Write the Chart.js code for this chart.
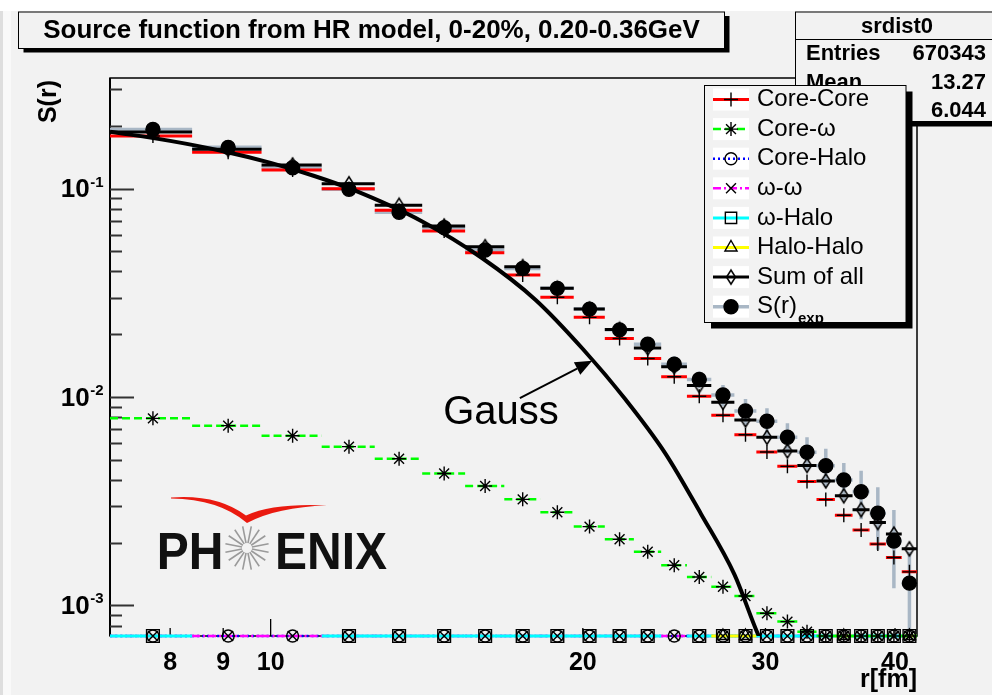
<!DOCTYPE html>
<html>
<head>
<meta charset="utf-8">
<title>Source function from HR model</title>
<script src="https://cdn.jsdelivr.net/npm/chart.js"></script>
<style>
  html, body { margin: 0; padding: 0; background: #ffffff; }
  canvas { display: block; }
</style>
</head>
<body>
<canvas id="srdist" width="992" height="695"></canvas>
<script>
// bin centres in fm (bins 1.4 fm wide, 7 - 42 fm)
const R_CENTERS = [7.7, 9.1, 10.5, 11.9, 13.3, 14.7, 16.1, 17.5, 18.9, 20.3, 21.7, 23.1, 24.5,
                   25.9, 27.3, 28.7, 30.1, 31.5, 32.9, 34.3, 35.7, 37.1, 38.5, 39.9, 41.3];
const BIN_WIDTH = 1.4;

const CORE_CORE  = [0.1786, 0.1492, 0.1227, 0.0998, 0.0786, 0.0625, 0.0492, 0.0385, 0.0301, 0.0241,
                    0.0191, 0.0153, 0.01251, 0.01008, 0.00817, 0.00659, 0.00545, 0.00465, 0.00393,
                    0.00322, 0.00271, 0.0023, 0.00197, 0.0017, 0.00145];
const CORE_OMEGA = [0.0079, 0.00729, 0.00652, 0.00578, 0.00506, 0.0043, 0.00374, 0.00323, 0.0028,
                    0.00239, 0.00208, 0.00181, 0.00156, 0.00137, 0.00123, 0.00111, 0.000918, 0.000837,
                    0.000749, 0.0007, 0.00064, 0.00058, 0.00053, 0.0005, 0.00042];
// these sit below the axis minimum; 0 = empty bin
const CORE_HALO  = [0.0001, 0.0001, 0.0001, 0.0001, 0.0001, 0.0001, 0.0001, 0.0001, 0.0001, 0.0001,
                    0.0001, 0.0001, 0.0001, 0.0001, 0.0001, 0.0001, 0.0001, 0.0001, 0.0001, 0.0001,
                    0.0001, 0.0001, 0.0001, 0.0001, 0.0001];
const OMEGA_OMEGA = [0.0001, 0.0001, 0.0001, 0.0001, 0.0001, 0.0001, 0.0001, 0.0001, 0.0001, 0.0001,
                     0.0001, 0.0001, 0.0001, 0.0001, 0.0001, 0.0001, 0.0001, 0.0001, 0.0001, 0.0001,
                     0.0001, 0.0001, 0.0001, 0.0001, 0.0001];
const OMEGA_HALO = [0.0001, 0, 0, 0.0001, 0.0001, 0.0001, 0.0001, 0.0001, 0.0001, 0.0001,
                    0.0001, 0.0001, 0, 0.0001, 0.0001, 0.0001, 0.0001, 0.0001, 0.0001, 0.0001,
                    0.0001, 0.0001, 0.0001, 0.0001, 0.0001];
const HALO_HALO  = [0, 0, 0, 0, 0, 0, 0, 0, 0, 0, 0, 0, 0, 0, 0.0001, 0.0001, 0, 0, 0, 0,
                    0.0001, 0, 0, 0, 0.0001];
const SUM_ALL    = [0.1866, 0.1542, 0.1297, 0.1054, 0.0831, 0.0661, 0.0526, 0.0422, 0.0332, 0.0264,
                    0.0211, 0.0172, 0.01397, 0.01135, 0.00943, 0.00776, 0.00641, 0.00551, 0.0047,
                    0.00396, 0.00336, 0.00288, 0.0025, 0.0022, 0.00187];
const S_EXP      = [0.192, 0.1576, 0.1258, 0.0991, 0.0769, 0.0649, 0.0507, 0.0414, 0.0332, 0.0264,
                    0.021, 0.0179, 0.01435, 0.01213, 0.01022, 0.00857, 0.00765, 0.00641, 0.00543,
                    0.00468, 0.004, 0.00351, 0.00277, 0.00204, 0.00128];
const S_EXP_ERR  = [0.003, 0.0025, 0.002, 0.0018, 0.0015, 0.0014, 0.0013, 0.0012, 0.0012, 0.0011,
                    0.0011, 0.00123, 0.00133, 0.00112, 0.0012, 0.00121, 0.00118, 0.00107, 0.00098,
                    0.00096, 0.00082, 0.00092, 0.00092, 0.00083, 0.00053];

// Gaussian source curve
const GAUSS_R = [7, 8, 9, 10, 11, 12, 14, 16, 18, 20, 22, 24, 26, 28, 29.5, 30.5];
const GAUSS_S = [0.1874, 0.1693, 0.151, 0.1328, 0.1152, 0.0987, 0.0695, 0.0463, 0.0293, 0.017,
                 0.0097, 0.0054, 0.00275, 0.00141, 0.00073, 0.00052];

const X_TICKS = [7, 8, 9, 10, 20, 30, 40];
const X_TICK_LABELS = ['', '8', '9', '10', '20', '30', '40'];
const Y_DECADES = [-1, -2, -3];
const X_MIN = 7, X_MAX = 42;
const Y_MIN = 7.14e-4, Y_MAX = 0.339;

const TITLE = 'Source function from HR model, 0-20%, 0.20-0.36GeV';
const STATS_NAME = 'srdist0';
const STATS_ROWS = [['Entries', '670343'], ['Mean', '13.27'], ['RMS', '6.044']];
const NOTE = { text: 'Gauss', r: 14.67, s: 0.00746, tail: [17.39, 0.00989], tip: [20.42, 0.01493] };

const FONT = "'Liberation Sans', Arial, Helvetica, sans-serif";

// narrow open diamond, the library's rectRot is too wide
function makeDiamond() {
  const c = document.createElement('canvas');
  c.width = 14; c.height = 18;
  const g = c.getContext('2d');
  g.strokeStyle = '#000';
  g.lineWidth = 1.5;
  g.beginPath();
  g.moveTo(7, 2); g.lineTo(11.5, 9); g.lineTo(7, 16); g.lineTo(2.5, 9);
  g.closePath();
  g.stroke();
  return c;
}
const DIAMOND = makeDiamond();

const SERIES = [
  { label: 'Core-Core',  values: CORE_CORE,   color: '#ff0000', width: 3,   dash: [],           marker: 'cross',    size: 7,   fill: null },
  { label: 'Core-ω',     values: CORE_OMEGA,  color: '#00ff00', width: 2.5, dash: [8, 4],       marker: 'star',     size: 7,   fill: null },
  { label: 'Core-Halo',  values: CORE_HALO,   color: '#0000ff', width: 2.5, dash: [2, 3],       marker: 'circle',   size: 6,   fill: null },
  { label: 'ω-ω',        values: OMEGA_OMEGA, color: '#ff00ff', width: 2.5, dash: [8, 3, 2, 3], marker: 'crossRot', size: 7,   fill: null },
  { label: 'ω-Halo',     values: OMEGA_HALO,  color: '#00ffff', width: 3,   dash: [],           marker: 'rect',     size: 9,   fill: null },
  { label: 'Halo-Halo',  values: HALO_HALO,   color: '#ffff00', width: 3,   dash: [],           marker: 'triangle', size: 7,   fill: null },
  { label: 'Sum of all', values: SUM_ALL,     color: '#000000', width: 3,   dash: [],           marker: DIAMOND,    size: 7,   fill: null },
  { label: 'S(r)', sub: 'exp', values: S_EXP, color: '#a9b7c5', width: 3.5, dash: [],           marker: 'circle',   size: 7,   fill: '#000000', errors: S_EXP_ERR },
];
// draw order: lower number ends up on top
const LINE_ORDER = [24, 25, 29, 28, 27, 26, 23, 30];
const MARK_ORDER = [5, 6, 12, 13, 14, 15, 4, 2];

function lowClamp(v) { return v < Y_MIN ? Y_MIN : v; }

function stepPoints(values) {
  const pts = [];
  values.forEach((v, i) => {
    if (!(v > 0)) return;
    const c = R_CENTERS[i], y = lowClamp(v);
    pts.push({ x: c - BIN_WIDTH / 2, y }, { x: c + BIN_WIDTH / 2, y }, { x: c, y: null });
  });
  return pts;
}

function errorPoints(values, errs) {
  const pts = [];
  values.forEach((v, i) => {
    const c = R_CENTERS[i];
    pts.push({ x: c, y: lowClamp(v - errs[i]) }, { x: c, y: v + errs[i] }, { x: c, y: null });
  });
  return pts;
}

function markerPoints(values) {
  return values.map((v, i) => ({ x: R_CENTERS[i], y: v > 0 ? lowClamp(v) : null }));
}

const datasets = [];
SERIES.forEach((s, i) => {
  const line = {
    label: s.label + (s.sub || ''),
    borderColor: s.color, borderWidth: s.width, borderDash: s.dash,
    pointRadius: 0, spanGaps: false, tension: 0, fill: false, clip: false,
    order: LINE_ORDER[i]
  };
  datasets.push(Object.assign({}, line, { data: stepPoints(s.values) }));
  if (s.errors) datasets.push(Object.assign({}, line, { data: errorPoints(s.values, s.errors) }));
  datasets.push({
    label: s.label + (s.sub || '') + ' markers',
    data: markerPoints(s.values), showLine: false, clip: false,
    pointStyle: s.marker, pointRadius: s.size, pointBorderWidth: 1.4,
    pointBorderColor: '#000000', pointBackgroundColor: s.fill || 'rgba(0,0,0,0)',
    order: MARK_ORDER[i]
  });
});
datasets.push({
  label: 'Gauss',
  data: GAUSS_R.map((r, i) => ({ x: r, y: GAUSS_S[i] })),
  borderColor: '#000000', borderWidth: 4, pointRadius: 0, fill: false,
  cubicInterpolationMode: 'monotone', order: 3
});

function drawMarker(ctx, style, radius, x, y, fill) {
  ctx.save();
  ctx.strokeStyle = '#000';
  ctx.fillStyle = fill || 'rgba(0,0,0,0)';
  ctx.lineWidth = 1.4;
  if (Chart.helpers && Chart.helpers.drawPoint) {
    Chart.helpers.drawPoint(ctx, { pointStyle: style, radius, rotation: 0, borderWidth: 1.4 }, x, y);
  } else if (typeof style !== 'string') {
    ctx.drawImage(style, x - style.width / 2, y - style.height / 2);
  } else {
    ctx.beginPath(); ctx.arc(x, y, radius, 0, Math.PI * 2);
    if (fill) ctx.fill();
    ctx.stroke();
  }
  ctx.restore();
}

function drawFrame(chart) {
  const { ctx, chartArea: a, scales: { y } } = chart;
  ctx.save();
  ctx.strokeStyle = '#000';
  ctx.lineWidth = 1.5;
  ctx.strokeRect(a.left, a.top, a.right - a.left, a.bottom - a.top);
  ctx.lineWidth = 2;
  ctx.beginPath(); ctx.moveTo(a.left, a.top); ctx.lineTo(a.left, a.bottom); ctx.stroke();

  // inward ticks on the y axis
  ctx.strokeStyle = '#333';
  for (let e = -4; e <= 0; e++) {
    for (let m = 1; m <= 9; m++) {
      const v = m * Math.pow(10, e);
      if (v < Y_MIN || v > Y_MAX) continue;
      const py = Math.round(y.getPixelForValue(v)) + 0.5;
      const len = m === 1 ? 24 : 12;
      ctx.beginPath(); ctx.moveTo(a.left, py); ctx.lineTo(a.left + len, py); ctx.stroke();
    }
  }
  // inward ticks on the x axis
  const x = chart.scales.x;
  ctx.strokeStyle = '#000';
  ctx.lineWidth = 1.3;
  X_TICKS.forEach(v => {
    if (v <= X_MIN) return;
    const px = x.getPixelForValue(v);
    const len = v === 10 ? 17 : 8;
    ctx.beginPath(); ctx.moveTo(px, a.bottom); ctx.lineTo(px, a.bottom - len); ctx.stroke();
  });
  ctx.restore();
}

function drawYLabels(chart) {
  const { ctx, scales: { y } } = chart;
  ctx.save();
  ctx.fillStyle = '#000';
  Y_DECADES.forEach(e => {
    const py = y.getPixelForValue(Math.pow(10, e));
    const base = '10', sup = String(e);
    ctx.font = `bold 26px ${FONT}`;
    const wb = ctx.measureText(base).width;
    ctx.font = `bold 15px ${FONT}`;
    const ws = ctx.measureText(sup).width;
    const x0 = 103 - wb - ws;
    ctx.font = `bold 26px ${FONT}`;
    ctx.textBaseline = 'middle';
    ctx.textAlign = 'left';
    ctx.fillText(base, x0, py + 1.5);
    ctx.font = `bold 15px ${FONT}`;
    ctx.textBaseline = 'alphabetic';
    ctx.fillText(sup, x0 + wb + 0.5, py - 2);
  });
  // y axis title
  ctx.translate(49, 80);
  ctx.rotate(-Math.PI / 2);
  ctx.font = `bold 25px ${FONT}`;
  ctx.textAlign = 'right';
  ctx.textBaseline = 'middle';
  ctx.fillText('S(r)', 0, 0);
  ctx.restore();
}

function drawNote(chart) {
  const { ctx, scales: { x, y } } = chart;
  const tx = x.getPixelForValue(NOTE.r), ty = y.getPixelForValue(NOTE.s);
  const ax = x.getPixelForValue(NOTE.tail[0]), ay = y.getPixelForValue(NOTE.tail[1]);
  const bx = x.getPixelForValue(NOTE.tip[0]), by = y.getPixelForValue(NOTE.tip[1]);
  ctx.save();
  ctx.fillStyle = '#000';
  ctx.font = `40px ${FONT}`;
  ctx.textBaseline = 'alphabetic';
  ctx.fillText(NOTE.text, tx, ty);
  const ang = Math.atan2(by - ay, bx - ax);
  const hl = 17, hw = 7;
  const cx = bx - hl * Math.cos(ang), cy = by - hl * Math.sin(ang);
  ctx.strokeStyle = '#000';
  ctx.lineWidth = 2;
  ctx.beginPath(); ctx.moveTo(ax, ay); ctx.lineTo(cx, cy); ctx.stroke();
  ctx.beginPath();
  ctx.moveTo(bx, by);
  ctx.lineTo(cx + hw * Math.sin(ang), cy - hw * Math.cos(ang));
  ctx.lineTo(cx - hw * Math.sin(ang), cy + hw * Math.cos(ang));
  ctx.closePath();
  ctx.fill();
  ctx.restore();
}

function drawLogo(ctx) {
  ctx.save();
  // red swoosh
  ctx.fillStyle = '#ea1a10';
  ctx.beginPath();
  ctx.moveTo(171, 497.5);
  ctx.quadraticCurveTo(217, 494, 246, 515.5);
  ctx.quadraticCurveTo(274, 503, 327, 505.5);
  ctx.quadraticCurveTo(277, 507, 247, 523);
  ctx.quadraticCurveTo(219, 499, 171, 498.5);
  ctx.closePath();
  ctx.fill();
  // starburst
  ctx.strokeStyle = '#9a9a9a';
  ctx.lineWidth = 1.6;
  const cx = 247, cy = 548;
  for (let k = 0; k < 16; k++) {
    const t = k * Math.PI / 8 + Math.PI / 16;
    ctx.beginPath();
    ctx.moveTo(cx + 5 * Math.cos(t), cy + 5 * Math.sin(t));
    ctx.lineTo(cx + 22 * Math.cos(t), cy + 22 * Math.sin(t));
    ctx.stroke();
  }
  // lettering
  ctx.fillStyle = '#111';
  ctx.font = `bold 48px ${FONT}`;
  ctx.textBaseline = 'alphabetic';
  ctx.translate(0, 569);
  ctx.scale(1, 1.095);
  ctx.textAlign = 'right';
  ctx.fillText('PH', 223.5, 0);
  ctx.textAlign = 'left';
  ctx.fillText('ENIX', 275, 0);
  ctx.restore();
}

function drawTitleBox(ctx) {
  const L = 18.5, T = 12, R = 724.5, B = 48.5;
  ctx.save();
  ctx.fillStyle = '#000';
  ctx.fillRect(L + 5, T + 4, R - L, B - T);
  ctx.fillStyle = '#f2f2f2';
  ctx.fillRect(L, T, R - L, B - T);
  ctx.strokeStyle = '#000';
  ctx.lineWidth = 1;
  ctx.strokeRect(L, T, R - L, B - T);
  ctx.fillStyle = '#000';
  ctx.font = `bold 22px ${FONT}`;
  const w = ctx.measureText(TITLE).width;
  const size = Math.max(18, Math.min(26, 22 * 657 / w));
  ctx.font = `bold ${size.toFixed(2)}px ${FONT}`;
  ctx.textAlign = 'center';
  ctx.textBaseline = 'middle';
  ctx.fillText(TITLE, (L + R) / 2, 31);
  ctx.restore();
}

function drawStats(ctx) {
  const L = 795.5, T = 12, R = 999, B = 121.5;
  ctx.save();
  ctx.fillStyle = '#000';
  ctx.fillRect(L + 5, T + 5, R - L, B - T);
  ctx.fillStyle = '#f2f2f2';
  ctx.fillRect(L, T, R - L, B - T);
  ctx.strokeStyle = '#000';
  ctx.lineWidth = 1;
  ctx.strokeRect(L, T, R - L, B - T);
  ctx.beginPath(); ctx.moveTo(L, 39.5); ctx.lineTo(R, 39.5); ctx.stroke();
  ctx.fillStyle = '#000';
  ctx.font = `bold 22px ${FONT}`;
  ctx.textBaseline = 'alphabetic';
  ctx.textAlign = 'center';
  ctx.fillText(STATS_NAME, 897, 33);
  STATS_ROWS.forEach((row, i) => {
    const by = 60 + i * 28.5;
    ctx.textAlign = 'left';
    ctx.fillText(row[0], 806, by);
    ctx.textAlign = 'right';
    ctx.fillText(row[1], 986, by);
  });
  ctx.restore();
}

function drawLegend(ctx) {
  const L = 704.5, T = 85.5, R = 906, B = 322.5;
  ctx.save();
  ctx.fillStyle = '#000';
  ctx.fillRect(L + 6.5, T + 6, R - L, B - T);
  ctx.fillStyle = '#f2f2f2';
  ctx.fillRect(L, T, R - L, B - T);
  ctx.strokeStyle = '#000';
  ctx.lineWidth = 1;
  ctx.strokeRect(L, T, R - L, B - T);
  SERIES.forEach((s, i) => {
    const cy = 99.5 + i * 29.6;
    ctx.fillStyle = '#ffffff';
    ctx.fillRect(713, cy - 11, 36, 22);
    ctx.strokeStyle = s.color;
    ctx.lineWidth = s.width;
    ctx.setLineDash(s.dash);
    ctx.beginPath(); ctx.moveTo(713, cy); ctx.lineTo(749, cy); ctx.stroke();
    ctx.setLineDash([]);
    drawMarker(ctx, s.marker, Math.min(s.size, 8), 731, cy, s.fill);
    ctx.fillStyle = '#000';
    ctx.font = `24px ${FONT}`;
    ctx.textAlign = 'left';
    ctx.textBaseline = 'middle';
    ctx.fillText(s.label, 757, cy);
    if (s.sub) {
      const w = ctx.measureText(s.label).width;
      ctx.font = `bold 15px ${FONT}`;
      ctx.textBaseline = 'alphabetic';
      ctx.fillText(s.sub, 757 + w + 1, cy + 16);
    }
  });
  ctx.restore();
}

const decorations = {
  id: 'decorations',
  beforeDraw(chart) {
    const { ctx, width, height } = chart;
    ctx.save();
    ctx.fillStyle = '#f2f2f2';
    ctx.fillRect(0, 0, width, height);
    ctx.fillStyle = '#ffffff';
    ctx.fillRect(0, 0, width, 11);
    ctx.fillStyle = '#f9f9f9';
    ctx.fillRect(0, 11, 11, height - 11);
    ctx.fillStyle = '#dedede';
    ctx.fillRect(0, 11, 3, height - 11);
    ctx.restore();
  },
  beforeDatasetsDraw(chart) {
    drawFrame(chart);
    drawLogo(chart.ctx);
  },
  afterDraw(chart) {
    drawYLabels(chart);
    drawNote(chart);
    drawTitleBox(chart.ctx);
    drawStats(chart.ctx);
    drawLegend(chart.ctx);
  }
};

new Chart(document.getElementById('srdist'), {
  type: 'line',
  data: { datasets },
  options: {
    responsive: false,
    animation: false,
    events: [],
    layout: { padding: { left: 110, right: 75, top: 78, bottom: 0 } },
    plugins: { legend: { display: false }, tooltip: { enabled: false } },
    scales: {
      x: {
        type: 'logarithmic',
        min: X_MIN, max: X_MAX,
        position: 'bottom',
        grid: { display: false, drawTicks: false },
        border: { display: false },
        afterBuildTicks: (scale) => { scale.ticks = X_TICKS.map(v => ({ value: v })); },
        afterFit: (scale) => { scale.height = 59; },
        ticks: {
          autoSkip: false, maxRotation: 0, minRotation: 0, padding: 12,
          color: '#000',
          font: { family: FONT, size: 25, weight: 'bold' },
          callback: (value) => X_TICK_LABELS[X_TICKS.indexOf(value)] || ''
        },
        title: {
          display: true, text: 'r[fm]', align: 'end', color: '#000',
          font: { family: FONT, size: 25, weight: 'bold' },
          padding: { top: 0, bottom: 0 }
        }
      },
      y: {
        type: 'logarithmic',
        min: Y_MIN, max: Y_MAX,
        grid: { display: false, drawTicks: false },
        border: { display: false },
        ticks: { display: false },
        afterFit: (scale) => { scale.width = 0; }
      }
    }
  },
  plugins: [decorations]
});
</script>
</body>
</html>
